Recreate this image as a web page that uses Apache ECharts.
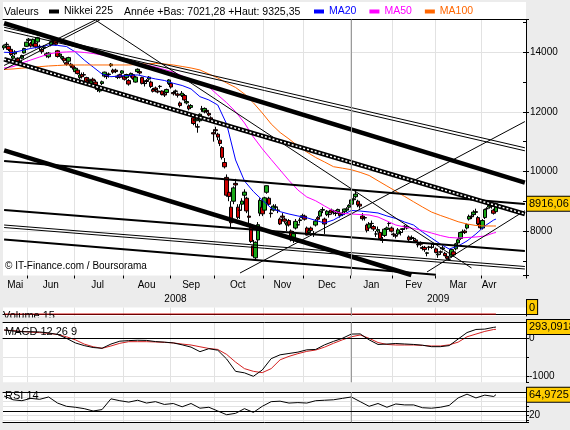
<!DOCTYPE html>
<html>
<head>
<meta charset="utf-8">
<script src="https://cdn.jsdelivr.net/npm/echarts@6/dist/echarts.min.js"></script>
<style>
  html, body { margin: 0; padding: 0; background: #ececec; }
  #chart { width: 570px; height: 430px; }
</style>
</head>
<body>
<div id="chart"></div>
<script>
const FONT = 'Liberation Sans, Arial, sans-serif';

// trading sessions shown on the axis (Tokyo calendar)
const sessions = [
  ['2008-05', [16,19,20,21,22,23,26,27,28,29,30]],
  ['2008-06', [2,3,4,5,6,9,10,11,12,13,16,17,18,19,20,23,24,25,26,27,30]],
  ['2008-07', [1,2,3,4,7,8,9,10,11,14,15,16,17,18,22,23,24,25,28,29,30,31]],
  ['2008-08', [1,4,5,6,7,8,11,12,13,14,15,18,19,20,21,22,25,26,27,28,29]],
  ['2008-09', [1,2,3,4,5,8,9,10,11,12,16,17,18,19,22,24,25,26,29,30]],
  ['2008-10', [1,2,3,6,7,8,9,10,14,15,16,17,20,21,22,23,24,27,28,29,30,31]],
  ['2008-11', [4,5,6,7,10,11,12,13,14,17,18,19,20,21,25,26,27,28]],
  ['2008-12', [1,2,3,4,5,8,9,10,11,12,15,16,17,18,19,22,24,25,26,29,30]],
  ['2009-01', [5,6,7,8,9,13,14,15,16,19,20,21,22,23,26,27,28,29,30]],
  ['2009-02', [2,3,4,5,6,9,10,12,13,16,17,18,19,20,23,24,25,26,27]],
  ['2009-03', [2,3,4,5,6,9,10,11,12,13,16,17,18,19,23,24,25,26,27,30,31]],
  ['2009-04', [1,2,3,6,7,8,9]]
];
// empty sessions left blank at the right of the chart
const emptySessions = ['2009-04', [10,13,14,15,16,17,20,21,22,23,24,27,28]];

const monthNames = ['Jan','Fev','Mar','Avr','Mai','Jun','Jul','Aou','Sep','Oct','Nov','Dec'];

// Nikkei 225 daily candles: [open, close, low, high]
const ohlc = [
  // mai 2008
  [14150,14219,14080,14260],[14260,14269,14180,14340],[14200,14092,14040,14230],[14100,13926,13880,14120],
  [13800,13875,13750,13920],[13950,14012,13900,14070],[13800,13690,13640,13830],[13650,13704,13600,13760],
  [13800,13889,13760,13920],[13980,14124,13960,14150],[14200,14338,14180,14360],
  // juin
  [14400,14440,14330,14480],[14300,14209,14160,14350],[14250,14435,14200,14460],[14300,14183,14130,14340],
  [14350,14489,14300,14520],[14200,14181,14050,14260],[14100,14021,13950,14150],[14150,14183,14070,14240],
  [13950,13888,13820,14000],[13850,13973,13800,14010],[14250,14354,14200,14400],[14380,14398,14300,14450],
  [14400,14269,14230,14420],[14050,13860,13820,14080],[13900,13942,13850,14000],[13800,13857,13750,13900],
  [13800,13717,13650,13820],[13650,13597,13550,13700],[13700,13822,13650,13850],[13600,13544,13480,13650],
  [13550,13481,13420,13600],
  // juillet
  [13350,13463,13300,13500],[13400,13286,13250,13450],[13150,13237,13100,13300],[13250,13180,13120,13320],
  [13250,13237,13180,13330],[13150,12988,12950,13180],[13050,13097,12980,13150],[12950,13034,12900,13060],
  [13100,13039,12980,13150],[13000,12894,12850,13080],[12800,12754,12670,12870],[12700,12760,12650,12820],
  [12950,13010,12900,13050],[13200,13334,13150,13350],[13250,13185,13100,13300],[13250,13270,13150,13320],
  [13550,13603,13500,13640],[13400,13334,13280,13450],[13400,13353,13300,13450],[13200,13159,13100,13250],
  [13250,13160,13120,13280],[13300,13376,13250,13400],
  // aout
  [13200,13094,13050,13250],[13150,13254,13100,13280],[13050,12933,12880,13100],[13200,13291,13150,13320],
  [13250,13124,13080,13280],[13000,13168,12980,13200],[13350,13430,13300,13460],[13350,13303,13250,13400],
  [13150,12957,12920,13180],[12950,12956,12850,13030],[13050,13019,12950,13100],[13100,13165,13050,13200],
  [13000,12851,12800,13050],[12750,12691,12650,12800],[12800,12752,12700,12850],[12700,12666,12620,12760],
  [12850,12858,12780,12900],[12700,12585,12550,12720],[12600,12565,12500,12650],[12650,12752,12600,12780],
  [12950,13072,12900,13100],
  // septembre
  [12950,12834,12780,12980],[12650,12609,12550,12700],[12700,12689,12600,12750],[12600,12557,12480,12650],
  [12300,12212,12150,12350],[12550,12624,12500,12700],[12550,12400,12350,12600],[12300,12346,12250,12420],
  [12200,12103,12050,12250],[12150,12214,12100,12260],[11800,11609,11550,11850],[11700,11749,11500,11800],
  [11500,11489,11300,11600],[11700,11920,11650,11950],[12100,12090,12000,12200],[12000,12115,11950,12150],
  [12050,12006,11950,12100],[11950,11893,11850,12000],[11800,11743,11650,11850],[11300,11260,11000,11400],
  // octobre
  [11400,11368,11250,11500],[11250,11154,11050,11300],[11050,10938,10850,11150],[10800,10473,10400,10850],
  [10300,10156,10100,10450],[9800,9203,9150,9900],[9300,9157,9000,9400],[8800,8276,8100,9000],
  [9000,9447,8900,9500],[9600,9547,9400,9750],[8800,8458,8400,8900],[8700,8693,8400,8900],
  [8900,9005,8700,9100],[9200,9306,9100,9400],[9100,8674,8600,9150],[8500,8460,8200,8700],
  [8200,7649,7600,8250],[7500,7162,7140,7700],[7100,7621,6994,7650],[7700,8211,7600,8300],
  [8600,9029,8500,9100],[8800,8577,8500,8950],
  // novembre
  [8700,9114,8650,9150],[9300,9521,9250,9530],[9100,8899,8850,9150],[8600,8583,8450,8750],
  [8700,8836,8650,8900],[8800,8809,8700,8900],[8700,8693,8600,8800],[8400,8238,8200,8450],
  [8500,8462,8350,8600],[8400,8328,8250,8450],[8200,8273,8000,8300],[8350,8203,8150,8400],
  [8000,7703,7650,8050],[7700,7910,7600,8000],[8100,8323,8050,8400],[8200,8213,8100,8300],
  [8350,8373,8250,8450],[8450,8512,8400,8580],
  // decembre
  [8500,8397,8350,8550],[8100,7863,7850,8150],[7950,8004,7900,8100],[8100,8017,7950,8150],
  [7900,7917,7800,8000],[8200,8329,8150,8400],[8450,8395,8300,8500],[8500,8660,8450,8700],
  [8700,8720,8600,8800],[8400,8235,7900,8450],[8550,8664,8500,8700],[8550,8568,8450,8650],
  [8700,8612,8550,8750],[8650,8667,8550,8700],[8600,8588,8500,8700],[8650,8723,8600,8750],
  [8600,8517,8450,8650],[8550,8599,8500,8650],[8650,8739,8600,8750],[8700,8742,8650,8800],
  [8800,8859,8750,8900],
  // janvier 2009
  [8900,9043,8850,9100],[9050,9080,8950,9150],[9150,9239,9100,9325],[9000,8876,8800,9050],
  [8900,8836,8750,8950],[8500,8413,8350,8600],[8450,8438,8350,8500],[8200,8023,7950,8250],
  [8100,8230,8000,8300],[8250,8256,8150,8350],[8150,8065,8000,8200],[7900,7901,7800,8000],
  [8000,8051,7950,8150],[7950,7745,7700,8000],[7700,7682,7600,7800],[7850,8061,7800,8100],
  [8050,8106,8000,8150],[8250,8251,8150,8300],[8100,7994,7950,8150],
  // fevrier
  [7900,7873,7800,7950],[7850,7825,7750,7900],[7900,8038,7850,8100],[7950,7949,7850,8000],
  [8050,8076,7950,8100],[8150,8161,8050,8200],[8100,8141,8050,8200],[7800,7706,7650,7850],
  [7750,7779,7700,7850],[7750,7750,7650,7800],[7700,7645,7600,7750],[7550,7534,7450,7600],
  [7600,7557,7500,7650],[7450,7416,7350,7500],[7450,7376,7300,7500],[7250,7268,7150,7300],
  [7450,7461,7350,7500],[7450,7457,7400,7550],[7550,7568,7450,7600],
  // mars
  [7400,7280,7250,7450],[7200,7229,7100,7300],[7300,7290,7200,7350],[7400,7433,7350,7500],
  [7250,7173,7150,7300],[7150,7086,7050,7200],[7050,7054,7021,7150],[7150,7376,7100,7400],
  [7300,7198,7150,7350],[7400,7569,7350,7600],[7600,7704,7550,7750],[7750,7949,7700,7950],
  [7950,7972,7850,8050],[8000,7945,7900,8050],[8100,8215,8050,8250],[8400,8488,8350,8550],
  [8500,8479,8400,8550],[8550,8636,8500,8700],[8650,8626,8550,8750],[8450,8236,8200,8500],
  [8250,8109,8050,8350],
  // avril
  [8100,8351,8050,8400],[8450,8719,8400,8750],[8750,8749,8650,8800],[8800,8857,8750,8950],
  [8850,8832,8750,8900],[8700,8595,8550,8750],[8650,8916.06,8650,8950]
];

// indicators read every 4 sessions (last value = last session)
const STEP = 4;
const ma20 = [14000,13990,14060,14130,14180,14245,14230,14195,14010,13740,13505,13270,13180,13205,13220,13240,
  13170,13105,13055,12960,12885,12770,12510,12400,12230,11590,10385,9680,9325,9040,8770,8650,8570,8505,8445,
  8355,8270,8370,8535,8690,8670,8640,8605,8505,8420,8300,8200,7965,7765,7565,7395,7495,7665,7900,8170,8370,8400];
const ma50 = [13473,13517,13641,13742,13843,13944,13994,14011,14021,13994,13960,13910,13843,13759,13709,13641,
  13574,13507,13423,13339,13205,13087,12987,12836,12567,12308,12007,11627,11157,10760,10401,10048,9696,9377,
  9142,9014,8840,8672,8588,8571,8554,8537,8470,8336,8201,8134,8084,8017,7933,7849,7782,7765,7782,7799,7832,7933,7950];
const ma100 = [13423,13440,13467,13490,13517,13541,13557,13574,13574,13574,13574,13574,13574,13574,13574,13591,
  13615,13625,13608,13574,13524,13473,13406,13272,13138,12970,12819,12600,12305,11962,11593,11308,11090,10854,
  10653,10468,10317,10159,10109,10058,9968,9864,9686,9511,9336,9158,8981,8806,8638,8524,8420,8312,8235,8185,8168,8168,8168];
const macdLine = [216,190,172,172,165,140,100,0,-120,-190,-240,-260,-150,-75,-60,-50,-55,-85,-100,-120,-170,
  -230,-348,-270,-310,-540,-860,-900,-990,-825,-530,-430,-395,-360,-300,-290,-170,-80,0,110,115,-40,-160,-150,
  -135,-148,-160,-180,-218,-218,-190,-20,150,230,240,286,293.0918];
const macdSignal = [216,200,180,160,148,130,100,40,-40,-150,-220,-260,-200,-130,-88,-88,-88,-95,-105,-120,-150,
  -175,-220,-265,-290,-420,-620,-790,-860,-895,-790,-560,-470,-400,-340,-305,-230,-130,-40,40,86,0,-110,-160,
  -174,-174,-174,-185,-200,-200,-170,-100,40,110,180,230,234];
const rsi14 = [62,54,52,57,55,60,47,40,38,35,30,33,56,52,49,53,47,50,44,46,39,46,36,38,30,22,25,35,27,40,50,51,
  47,48,47,52,53,54,57,60,50,40,46,38,45,43,43,37,36,38,42,58,66,58,64,61,64.9725];
const volumeMa15 = [0, 0];

// drawn trend lines: [start session, price, end session, price]
const trendThick = [
  ['2008-05-16', 14975, '2009-04-28', 9622],
  ['2008-05-16', 10710, '2009-02-13', 6523]
];
const trendRail = [
  ['2008-05-16', 13766, '2009-04-28', 8571]
];
const trendMedium = [
  ['2008-05-16', 10351, '2009-04-28', 8907],
  ['2008-05-16', 8705, '2009-04-28', 7332],
  ['2008-05-16', 7715, '2009-03-02', 6530]
];
const trendThin = [
  ['2008-05-16', 14840, '2009-04-28', 10794],
  ['2008-05-16', 14739, '2009-04-28', 10693],
  ['2008-05-16', 13557, '2008-07-14', 15085],
  ['2008-05-16', 13424, '2008-07-16', 15085],
  ['2008-07-14', 15085, '2009-03-25', 6758],
  ['2008-10-17', 6590, '2009-04-28', 11674],
  ['2009-02-24', 6623, '2009-04-28', 8682],
  ['2008-05-16', 8201, '2009-04-28', 6808],
  ['2008-05-16', 8117, '2009-04-28', 6724]
];

// ---------------------------------------------------------------
const dates = [];
sessions.forEach(([ym, days]) => days.forEach(d => dates.push(ym + '-' + String(d).padStart(2, '0'))));
const nData = dates.length;
emptySessions[1].forEach(d => dates.push(emptySessions[0] + '-' + String(d).padStart(2, '0')));

const monthStart = new Set();
for (let i = 1; i < dates.length; i++) {
  if (dates[i].slice(0, 7) !== dates[i - 1].slice(0, 7)) monthStart.add(i);
}
function groupMid(keyLen, upto) {
  const mids = new Set();
  let first = 0;
  for (let i = 1; i <= upto; i++) {
    if (i === upto || dates[i].slice(0, keyLen) !== dates[first].slice(0, keyLen)) {
      mids.add(Math.floor((first + i - 1) / 2));
      first = i;
    }
  }
  return mids;
}
const monthMid = groupMid(7, nData);
const yearMid = groupMid(4, dates.length);

const at = i => dates[Math.min(i * STEP, nData - 1)];
const sampled = arr => arr.map((v, i) => [at(i), v]);
const fr = (v, d) => v.toFixed(d).replace('.', ',');

const JAN = '2009-01-05';
const gridColor = '#e2e2e2';

function janLine() {
  return { xAxis: JAN, lineStyle: { color: '#9a9a9a', type: 'solid', width: 1 }, label: { show: false } };
}
function lastValue(value, text, vAlign) {
  return {
    yAxis: value,
    lineStyle: { color: 'rgba(0,0,0,0)', width: 0 },
    label: {
      show: true, position: 'end', distance: 1, formatter: text, color: '#000',
      backgroundColor: '#ffcc00', borderColor: '#000', borderWidth: 1,
      padding: [2, 2, 1, 2], fontSize: 11, fontFamily: FONT,
      verticalAlign: vAlign || 'middle'
    }
  };
}
function catAxis(gridIndex, extra) {
  return Object.assign({
    type: 'category', gridIndex, data: dates, boundaryGap: true,
    axisLine: { show: false }, axisTick: { show: false }, axisLabel: { show: false },
    splitLine: { show: false }
  }, extra);
}
const monthSplit = { show: true, interval: i => monthStart.has(i), lineStyle: { color: gridColor } };

function trendSeries(list, width, color, extra) {
  return list.map(t => Object.assign({
    type: 'line', xAxisIndex: 0, yAxisIndex: 0, silent: true, symbol: 'none',
    data: [[t[0], t[1]], [t[2], t[3]]],
    lineStyle: { color: color, width: width }, z: 4, animation: false
  }, extra || {}));
}

const PRICE_MIN = 6506, PRICE_MAX = 15101;

const option = {
  animation: false,
  backgroundColor: '#ececec',
  textStyle: { fontFamily: FONT },
  legend: [
    {
      left: 49, top: 6, padding: 0, itemWidth: 10, itemHeight: 4, icon: 'rect', selectedMode: false,
      textStyle: { fontSize: 10.5, color: '#000', fontFamily: FONT },
      data: [{ name: 'Nikkei 225', itemStyle: { color: '#000', borderWidth: 0 } }]
    },
    {
      left: 314, top: 6, padding: 0, itemWidth: 10, itemHeight: 4, icon: 'rect', itemGap: 13, selectedMode: false,
      textStyle: { fontSize: 10.5, fontFamily: FONT },
      data: [
        { name: 'MA20', textStyle: { color: '#0000ff' } },
        { name: 'MA50', textStyle: { color: '#ff00ff' } },
        { name: 'MA100', textStyle: { color: '#ff6600' } }
      ]
    }
  ],
  graphic: [
    { type: 'rect', shape: { x: 3, y: 2, width: 523, height: 17 }, style: { fill: '#fff' }, z: -1 },
    { type: 'text', x: 4, y: 12.5, style: { text: 'Valeurs', fontSize: 10.5, fontFamily: FONT, fill: '#000', verticalAlign: 'middle' } },
    { type: 'text', x: 124, y: 12.5, style: { text: 'Année +Bas: 7021,28 +Haut: 9325,35', fontSize: 10.5, fontFamily: FONT, fill: '#000', verticalAlign: 'middle' } },
    { type: 'text', x: 5, y: 266, z: 10, style: { text: '© IT-Finance.com / Boursorama', fontSize: 10, fontFamily: FONT, fill: '#000', verticalAlign: 'middle' } },
    { type: 'text', x: 3, y: 316, z: 10, style: { text: 'Volume 15', fontSize: 11, fontFamily: FONT, fill: '#000', verticalAlign: 'middle' } },
    { type: 'rect', shape: { x: 0, y: 317.5, width: 120, height: 4 }, style: { fill: '#ececec' }, z: 11 },
    { type: 'text', x: 5, y: 332, z: 10, style: { text: 'MACD 12 26 9', fontSize: 11, fontFamily: FONT, fill: '#000', verticalAlign: 'middle' } },
    { type: 'text', x: 5, y: 396, z: 10, style: { text: 'RSI 14', fontSize: 11, fontFamily: FONT, fill: '#000', verticalAlign: 'middle' } }
  ],
  grid: [
    { left: 3, right: 44, top: 19.5, height: 256, show: true, backgroundColor: '#fff', borderWidth: 0 },
    { left: 3, right: 44, top: 307.5, height: 8.5, show: true, backgroundColor: '#fff', borderWidth: 0 },
    { left: 3, right: 44, top: 322.3, height: 60, show: true, backgroundColor: '#fff', borderWidth: 0 },
    { left: 3, right: 44, top: 392.3, height: 30, show: true, backgroundColor: '#fff', borderWidth: 0 }
  ],
  xAxis: [
    catAxis(0, {
      axisTick: { show: true, interval: i => monthStart.has(i), length: 3, lineStyle: { color: '#000' } },
      axisLabel: {
        show: true, interval: i => monthMid.has(i), margin: 5, fontSize: 10, color: '#000',
        formatter: v => monthNames[+v.slice(5, 7) - 1]
      },
      splitLine: monthSplit
    }),
    catAxis(0, {
      position: 'bottom', offset: 14,
      axisLabel: { show: true, interval: i => yearMid.has(i), margin: 5, fontSize: 10, color: '#000', formatter: v => v.slice(0, 4) }
    }),
    catAxis(0, { position: 'top', axisLine: { show: true, lineStyle: { color: '#000' } } }),
    catAxis(1, { axisLine: { show: true, lineStyle: { color: '#000' } }, splitLine: monthSplit }),
    catAxis(2, { axisLine: { show: true, lineStyle: { color: '#000' } }, splitLine: monthSplit }),
    catAxis(2, { position: 'top', axisLine: { show: true, lineStyle: { color: '#000' } } }),
    catAxis(3, { axisLine: { show: true, lineStyle: { color: '#000' } }, splitLine: monthSplit }),
    catAxis(3, { position: 'top', axisLine: { show: true, lineStyle: { color: '#000' } } })
  ],
  yAxis: [
    {
      type: 'value', gridIndex: 0, position: 'right', min: PRICE_MIN, max: PRICE_MAX, splitNumber: 4,
      axisLine: { show: true, lineStyle: { color: '#000' } },
      axisTick: { show: true, length: 3, lineStyle: { color: '#000' } },
      axisLabel: { fontSize: 10, color: '#000', margin: 4, formatter: v => (v % 2000 === 0 ? String(v) : '') },
      splitLine: { show: true, showMinLine: false, showMaxLine: false, lineStyle: { color: gridColor } }
    },
    {
      type: 'value', gridIndex: 0, position: 'right', min: PRICE_MIN, max: PRICE_MAX, splitNumber: 8,
      axisLine: { show: false }, axisTick: { show: true, inside: true, length: 3, lineStyle: { color: '#000' } },
      axisLabel: { show: false }, splitLine: { show: false }
    },
    {
      type: 'value', gridIndex: 1, position: 'right', min: -0.3, max: 1,
      axisLine: { show: true, lineStyle: { color: '#000' } }, axisTick: { show: false },
      axisLabel: { show: false }, splitLine: { show: false }
    },
    {
      type: 'value', gridIndex: 2, position: 'right', min: -1146, max: 417, splitNumber: 3,
      axisLine: { show: true, lineStyle: { color: '#000' } },
      axisTick: { show: true, length: 3, lineStyle: { color: '#000' } },
      axisLabel: { fontSize: 10, color: '#000', margin: 3, formatter: v => (v === 0 || v === -1000 ? String(v) : '') },
      splitLine: { show: true, showMinLine: false, showMaxLine: false, lineStyle: { color: gridColor } }
    },
    {
      type: 'value', gridIndex: 3, position: 'right', min: 5.8, max: 70, splitNumber: 6,
      axisLine: { show: true, lineStyle: { color: '#000' } },
      axisTick: { show: true, length: 3, lineStyle: { color: '#000' } },
      axisLabel: { fontSize: 10, color: '#000', margin: 3, formatter: v => (v === 20 ? '20' : '') },
      splitLine: { show: true, showMinLine: false, showMaxLine: false, lineStyle: { color: gridColor } }
    }
  ],
  series: [
    {
      name: 'Nikkei 225', type: 'candlestick', xAxisIndex: 0, yAxisIndex: 0,
      data: ohlc, barWidth: 4, z: 2,
      itemStyle: { color: '#18a818', color0: '#cc0000', borderColor: '#000', borderColor0: '#000', borderWidth: 1 },
      markLine: {
        silent: true, symbol: 'none', animation: false,
        data: [janLine(), lastValue(ohlc[nData - 1][1], fr(ohlc[nData - 1][1], 2))]
      }
    },
    { name: 'MA20', type: 'line', xAxisIndex: 0, yAxisIndex: 0, data: sampled(ma20), symbol: 'none', z: 3,
      itemStyle: { color: '#0000ff' }, lineStyle: { color: '#0000ff', width: 1 } },
    { name: 'MA50', type: 'line', xAxisIndex: 0, yAxisIndex: 0, data: sampled(ma50), symbol: 'none', z: 3,
      itemStyle: { color: '#ff00ff' }, lineStyle: { color: '#ff00ff', width: 1 } },
    { name: 'MA100', type: 'line', xAxisIndex: 0, yAxisIndex: 0, data: sampled(ma100), symbol: 'none', z: 3,
      itemStyle: { color: '#ff6600' }, lineStyle: { color: '#ff6600', width: 1 } },
    ...trendSeries(trendThick, 4.5, '#000'),
    ...trendSeries(trendRail, 4.5, '#000'),
    ...trendSeries(trendRail, 1.5, '#fff', { lineStyle: { color: '#fff', width: 1.5, type: [2, 2] }, z: 5 }),
    ...trendSeries(trendMedium, 2, '#000'),
    ...trendSeries(trendThin, 1, '#000'),
    {
      name: 'Volume 15', type: 'line', xAxisIndex: 3, yAxisIndex: 2, symbol: 'none',
      data: [[dates[0], volumeMa15[0]], [dates[nData - 1], volumeMa15[1]]],
      lineStyle: { color: '#cc0000', width: 1 },
      markLine: { silent: true, symbol: 'none', data: [janLine(), lastValue(0, '0', 'bottom')] }
    },
    {
      name: 'MACD', type: 'line', xAxisIndex: 4, yAxisIndex: 3, symbol: 'none', data: sampled(macdLine),
      lineStyle: { color: '#000', width: 1 }, z: 4,
      markLine: {
        silent: true, symbol: 'none',
        data: [janLine(), { yAxis: 0, lineStyle: { color: '#000', type: 'solid', width: 1 }, label: { show: false } },
          lastValue(macdLine[macdLine.length - 1], fr(macdLine[macdLine.length - 1], 4))]
      }
    },
    {
      name: 'Signal', type: 'line', xAxisIndex: 4, yAxisIndex: 3, symbol: 'none', data: sampled(macdSignal),
      lineStyle: { color: '#d42020', width: 1 }, z: 3
    },
    {
      name: 'RSI 14', type: 'line', xAxisIndex: 6, yAxisIndex: 4, symbol: 'none', data: sampled(rsi14),
      lineStyle: { color: '#000', width: 1 },
      markLine: {
        silent: true, symbol: 'none',
        data: [janLine(), { yAxis: 30, lineStyle: { color: '#000', type: 'solid', width: 1 }, label: { show: false } },
          lastValue(rsi14[rsi14.length - 1], fr(rsi14[rsi14.length - 1], 4))]
      }
    }
  ]
};

const chart = echarts.init(document.getElementById('chart'));
chart.setOption(option);
</script>
</body>
</html>
